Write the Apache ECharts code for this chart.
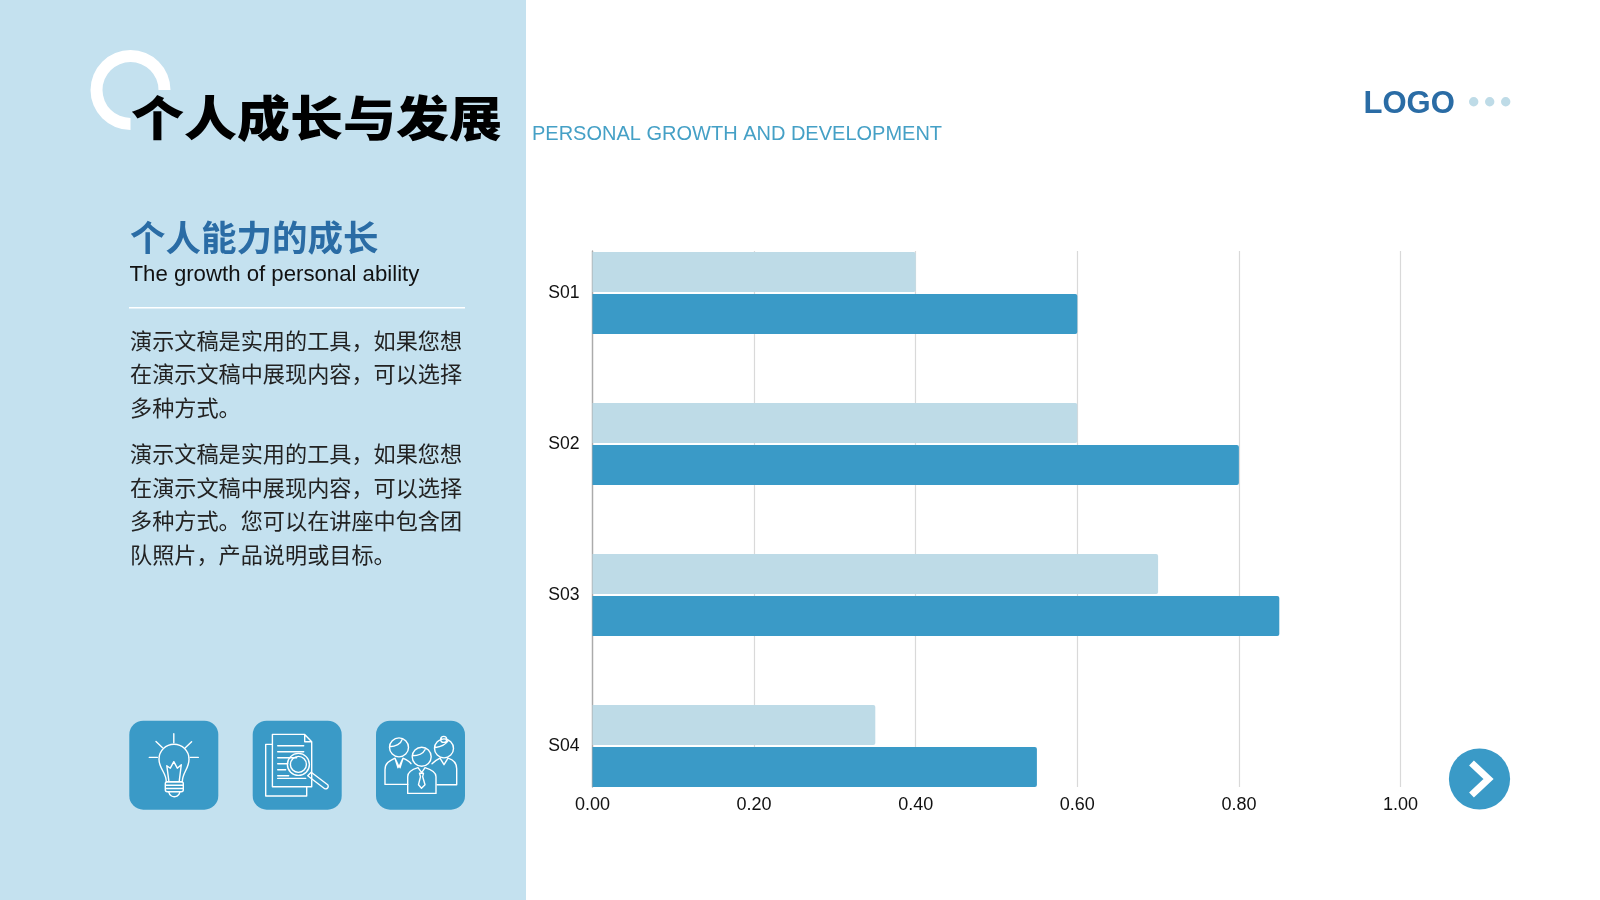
<!DOCTYPE html>
<html><head><meta charset="utf-8">
<style>html,body{margin:0;padding:0;background:#fff}#c{width:1600px;height:900px}</style>
<script src="https://cdn.jsdelivr.net/npm/echarts@6/dist/echarts.min.js"></script></head>
<body><div id="c"></div>
<script>
const categories = ['S01','S02','S03','S04'];
const lightValues = [0.4,0.6,0.7,0.35];
const darkValues = [0.6,0.8,0.85,0.55];
const para1 = ['演示文稿是实用的工具，如果您想','在演示文稿中展现内容，可以选择','多种方式。'];
const para2 = ['演示文稿是实用的工具，如果您想','在演示文稿中展现内容，可以选择','多种方式。您可以在讲座中包含团','队照片，产品说明或目标。'];
const BLUE='#3A9AC7', LIGHT='#BEDBE7', PANEL='#C4E1EF', NAVY='#2A6CA5';
const CJK='"Noto Sans CJK SC","Liberation Sans",sans-serif', LAT='"Liberation Sans",Arial,sans-serif';
const txt=(x,y,text,font,size,color,weight,z)=>({type:'text',x,y,z:z||5,style:{text,fontFamily:font,fontSize:size,fill:color,fontWeight:weight||'normal',textAlign:'left',textVerticalAlign:'middle'}});
const ln={stroke:'#fff',lineWidth:1.4,fill:null,lineCap:'round',lineJoin:'round'};
let iconCount=0;
const p=d=>{const name='iconPath'+(iconCount++);echarts.graphic.registerShape(name,echarts.graphic.extendPath(d,{}));return {type:name,style:ln,z:4};};
const box=(x,children)=>({type:'group',x,y:720.7,z:3,children:[{type:'rect',shape:{x:0,y:0,width:89,height:89,r:14},style:{fill:BLUE},z:3}].concat(children)});
const paraLines=[];
para1.forEach((t,i)=>paraLines.push(txt(130,[340.5,374,407.5][i],t,CJK,22.15,'#222')));
para2.forEach((t,i)=>paraLines.push(txt(130,[454,487.5,521,554.5][i],t,CJK,22.15,'#222')));
const titleText=Object.assign(txt(131,118,'个人成长与发展',CJK,53,'#000','900'),{scaleY:0.9});
const graphic=[
 {type:'rect',shape:{x:0,y:0,width:526,height:900},style:{fill:PANEL},z:0},
 {type:'sector',shape:{cx:130.5,cy:90,r:40,r0:28,startAngle:Math.PI/2,endAngle:Math.PI*2,clockwise:true},style:{fill:'#fff'},z:1},
 titleText,
 txt(532,134,'PERSONAL GROWTH AND DEVELOPMENT',LAT,20,'#45A0C6'),
 txt(130,238,'个人能力的成长',CJK,35.5,NAVY,'bold'),
 txt(129.5,274.5,'The growth of personal ability',LAT,22.2,'#111'),
 {type:'rect',shape:{x:129,y:307,width:336,height:1.6},style:{fill:'#fff'},z:2},
 txt(1363.5,104,'LOGO',LAT,31,NAVY,'bold'),
 {type:'circle',shape:{cx:1473.7,cy:101.7,r:4.7},style:{fill:LIGHT},z:2},
 {type:'circle',shape:{cx:1489.7,cy:101.7,r:4.7},style:{fill:LIGHT},z:2},
 {type:'circle',shape:{cx:1505.7,cy:101.7,r:4.7},style:{fill:LIGHT},z:2},
 {type:'circle',shape:{cx:1479.5,cy:779,r:30.6},style:{fill:BLUE},z:2},
 {type:'polyline',shape:{points:[[1471.5,763],[1488.5,779],[1471.5,795]]},style:{stroke:'#fff',lineWidth:7,fill:null,lineJoin:'miter'},z:3},
 box(129.3,[
  p('M44.5 13V22M20 36.7H28M61 36.7H69M26.7 20.7L33 26.7M62.3 21L56 27'),
  p('M37 61C37 52 29.7 48 29.7 38.5A15 15 0 1 1 59.7 38.5C59.7 48 53 52 53 61Z'),
  p('M39.5 60L37.5 45L41 47.5L44.5 41L48 47.5L52 44L50 60'),
  p('M38 61H52A2 2 0 0 1 54 63V69A2 2 0 0 1 52 71H38A2 2 0 0 1 36 69V63A2 2 0 0 1 38 61ZM36 64.5H54M36 67.8H54'),
  p('M39.5 71.5A5.6 5.6 0 0 0 50.5 71.5')
 ]),
 box(252.7,[
  p('M19.7 13.7H52L59 21V66H19.7ZM52 13.7V21H59'),
  p('M19.7 23.7H13V75.3H54V66'),
  p('M25 25H51M25 31H51M25 37H44M25 43H35M25 49H33M25 55H36M25 57.7H53'),
  p('M56.7 43.7A11 11 0 1 1 34.7 43.7A11 11 0 1 1 56.7 43.7ZM53.7 43.7A8 8 0 1 1 37.7 43.7A8 8 0 1 1 53.7 43.7Z'),
  p('M55 55L58.5 51.5L75 64A2.6 2.6 0 0 1 72 68Z')
 ]),
 box(376,[
  p('M32.5 26.7A9.5 9.5 0 1 1 13.5 26.7A9.5 9.5 0 1 1 32.5 26.7ZM13.5 26C20 26 25 23 26 19'),
  p('M9 63.7V49C9 42 14 40 19 37.5L23 46L27 37.5C30 38.8 33 40 35 43M9 63.7H31.7M19 37.5L22 47M27 37.5L24 47'),
  p('M55.2 36A9.5 9.5 0 1 1 36.2 36A9.5 9.5 0 1 1 55.2 36ZM36.2 35C42 35 47 33 49 29'),
  p('M31.7 72.7V56C31.7 51 37 48.5 42 47L45.7 52L49 47C54 48.5 60 51 60 56V72.7ZM43.5 52.5H47.5L46.7 56L49 64L45.5 67.5L42.5 64L44.5 56Z'),
  p('M77.5 27.7A9.5 9.5 0 1 1 58.5 27.7A9.5 9.5 0 1 1 77.5 27.7ZM58.5 27C64 26 70 24 72 20M70.7 18.7A3 3 0 1 1 64.7 18.7A3 3 0 1 1 70.7 18.7Z'),
  p('M56 43C58 41 61 39 64 37.5L68 44L72 37.5C77 39 80.7 42 80.7 48V64H61')
 ])
].concat(paraLines);
const chart=echarts.init(document.getElementById('c'),null,{renderer:'canvas'});
chart.setOption({
 animation:false,
 backgroundColor:'#fff',
 graphic,
 grid:[
  {left:592.5,width:808,top:251,height:536},
  {left:592.5,width:808,top:217.5,height:604}
 ],
 xAxis:[
  {gridIndex:0,type:'value',min:0,max:1,interval:0.2,axisLine:{show:false},axisTick:{show:false},
   splitLine:{show:true,lineStyle:{color:'#D9D9D9',width:1.2}},
   axisLabel:{margin:9,color:'#111',fontSize:18,fontFamily:LAT,formatter:v=>v.toFixed(2)}},
  {gridIndex:1,type:'value',min:0,max:1,show:false}
 ],
 yAxis:[
  {gridIndex:0,type:'category',data:categories,inverse:true,axisLine:{show:true,lineStyle:{color:'#ABABAB',width:1.4}},axisTick:{show:false},axisLabel:{show:false},splitLine:{show:false}},
  {gridIndex:1,type:'category',data:categories,inverse:true,axisLine:{show:false},axisTick:{show:false},
   axisLabel:{margin:13,color:'#111',fontSize:17.6,fontFamily:LAT,padding:[2,0,0,0]}}
 ],
 series:[
  {type:'bar',xAxisIndex:1,yAxisIndex:1,data:lightValues,barWidth:40,barGap:'5%',itemStyle:{color:LIGHT,borderRadius:[0,2,2,0]},z:3},
  {type:'bar',xAxisIndex:1,yAxisIndex:1,data:darkValues,barWidth:40,barGap:'5%',itemStyle:{color:BLUE,borderRadius:[0,2,2,0]},z:3}
 ]
});
</script></body></html>
